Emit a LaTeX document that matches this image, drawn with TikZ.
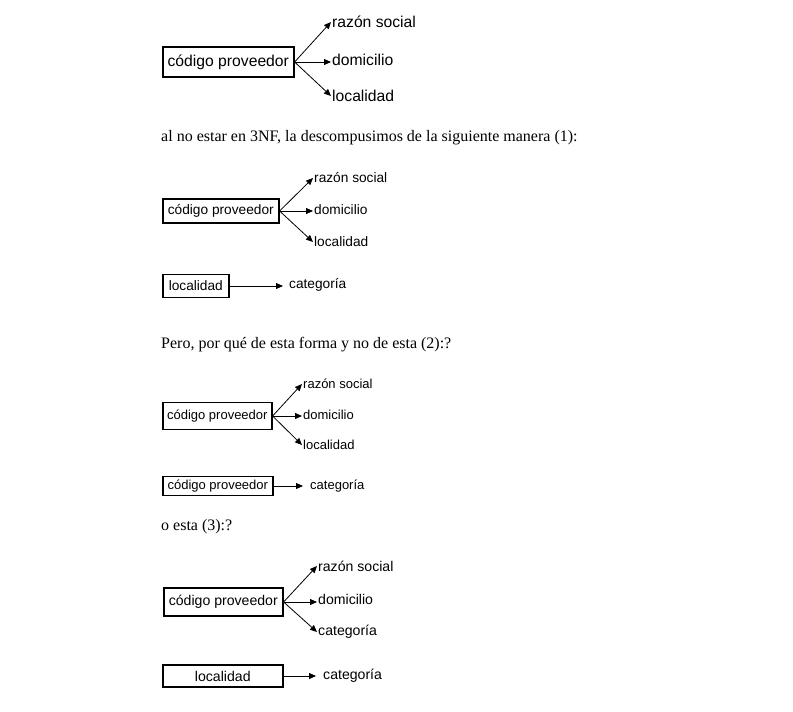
\documentclass[tikz,border=0pt]{standalone}
\usepackage{fontspec}
\setmainfont{Liberation Serif}
\setsansfont{Liberation Sans}
\usetikzlibrary{arrows.meta}
\tikzset{
  keybox/.style={draw, line width=1.6pt, inner xsep=0pt, inner ysep=0pt,
                 anchor=west, align=center},
  attr/.style={anchor=west, inner sep=1pt},
  flecha/.style={line width=0.8pt, -{Triangle[length=7pt,width=6pt]}},
  parrafo/.style={anchor=west, inner sep=0pt, font=\fontsize{16}{19}\selectfont}
}
\begin{document}
\begin{tikzpicture}[x=1pt,y=-1pt]
  \useasboundingbox (0,0) rectangle (793,712);
  % 1
  \begin{scope}[font=\sffamily\fontsize{15.7}{18}\selectfont]
    \node[keybox, minimum width=131pt, minimum height=30pt] (cp1) at (162,62) {código proveedor};
    \node[attr] (rs1) at (331,22) {razón social};
    \node[attr] (dom1) at (331,60) {domicilio};
    \node[attr] (loc1) at (331,96) {localidad};
  \end{scope}
  \draw[flecha] (cp1.east) -- (rs1.west);
  \draw[flecha] (cp1.east) -- (dom1.west |- cp1.east);
  \draw[flecha] (cp1.east) -- (loc1.west);

  \node[parrafo] (p1) at (161,138) {al no estar en 3NF, la descompusimos de la siguiente manera (1):};

  % 2
  \begin{scope}[font=\sffamily\fontsize{13.7}{16}\selectfont]
    \node[keybox, minimum width=116pt, minimum height=24pt] (cp2) at (162,211) {código proveedor};
    \node[attr] (rs2) at (313,178) {razón social};
    \node[attr] (dom2) at (313,210) {domicilio};
    \node[attr] (loc2) at (313,242) {localidad};
    \node[keybox, minimum width=66pt, minimum height=23pt] (lo2) at (162,286) {localidad};
    \node[attr] (cat2) at (288,285) {categoría};
  \end{scope}
  \draw[flecha] (cp2.east) -- (rs2.west);
  \draw[flecha] (cp2.east) -- (dom2.west |- cp2.east);
  \draw[flecha] (cp2.east) -- (loc2.west);
  \draw[flecha, shorten >=5pt] (lo2.east) -- (cat2.west |- lo2.east);

  \node[parrafo] (p2) at (161,345) {Pero, por qué de esta forma y no de esta (2):?};

  % 3
  \begin{scope}[font=\sffamily\fontsize{13}{15}\selectfont]
    \node[keybox, minimum width=109pt, minimum height=27pt] (cp3) at (162,416) {código proveedor};
    \node[attr] (rs3) at (302,384) {razón social};
    \node[attr] (dom3) at (302,415) {domicilio};
    \node[attr] (loc3) at (302,445) {localidad};
    \node[keybox, minimum width=110pt, minimum height=19pt] (cp3b) at (162,486) {código proveedor};
    \node[attr] (cat3) at (309,486) {categoría};
  \end{scope}
  \draw[flecha] (cp3.east) -- (rs3.west);
  \draw[flecha] (cp3.east) -- (dom3.west |- cp3.east);
  \draw[flecha] (cp3.east) -- (loc3.west);
  \draw[flecha, shorten >=6pt] (cp3b.east) -- (cat3.west |- cp3b.east);

  \node[parrafo] (p3) at (161,527) {o esta (3):?};

  % 4
  \begin{scope}[font=\sffamily\fontsize{14.1}{17}\selectfont]
    \node[keybox, minimum width=119pt, minimum height=28pt] (cp4) at (163,602) {código proveedor};
    \node[attr] (rs4) at (317,566) {razón social};
    \node[attr] (dom4) at (317,599) {domicilio};
    \node[attr] (cat4) at (317,632) {categoría};
    \node[keybox, minimum width=120pt, minimum height=22pt] (lo4) at (162,676) {localidad};
    \node[attr] (cat4b) at (322,676) {categoría};
  \end{scope}
  \draw[flecha] (cp4.east) -- (rs4.west);
  \draw[flecha] (cp4.east) -- (dom4.west |- cp4.east);
  \draw[flecha] (cp4.east) -- (cat4.west);
  \draw[flecha, shorten >=6pt] (lo4.east) -- (cat4b.west |- lo4.east);
\end{tikzpicture}
\end{document}
